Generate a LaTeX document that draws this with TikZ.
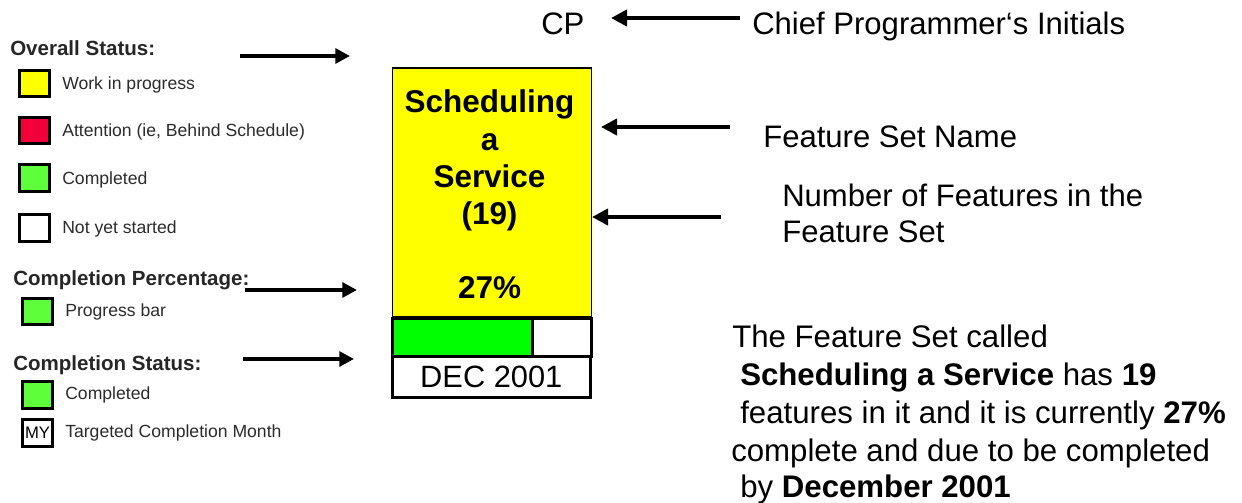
\documentclass[tikz,border=0pt]{standalone}
\usepackage{fontspec}
\setmainfont{Liberation Sans}
\usetikzlibrary{arrows.meta}

\definecolor{fsyellow}{HTML}{FFFF00}
\definecolor{fsgreen}{HTML}{00FF00}
\definecolor{lggreen}{HTML}{5EFF3A}
\definecolor{lgred}{HTML}{F2003A}
\definecolor{lgtext}{HTML}{2B2B2B}

\tikzset{
  swatch/.style={draw=black, line width=2.3pt, minimum width=23pt, minimum height=20pt, inner sep=0pt},
  legtext/.style={anchor=west, inner sep=0pt, text=lgtext, font=\fontsize{13.2}{15}\selectfont},
  leghead/.style={anchor=base west, inner sep=0pt, text=black!85, font=\fontsize{15.4}{18}\selectfont\bfseries},
  lefarrow/.style={line width=3pt, -{Triangle[length=11pt,width=11pt]}},
  rigarrow/.style={line width=3.6pt, -{Triangle[length=12pt,width=12pt]}},
  label/.style={anchor=base west, inner sep=0pt, font=\fontsize{23.3}{28}\selectfont},
  boxline/.style={anchor=base, inner sep=0pt, font=\fontsize{23.6}{28}\selectfont\bfseries},
  para/.style={anchor=base west, inner sep=0pt, font=\fontsize{23.4}{28}\selectfont},
}

\begin{document}
\begin{tikzpicture}[x=0.75pt,y=-0.75pt]
\useasboundingbox (0,0) rectangle (1242,503);

% ---- legend: overall status
\node[leghead] (hOverall) at (10,56) {Overall Status:};
\node[swatch, fill=fsyellow] (sWip) at (34.5,83.5) {};
\node[legtext] (tWip) at (62,85) {Work in progress};
\node[swatch, fill=lgred] (sAtt) at (34.5,130.5) {};
\node[legtext] (tAtt) at (62,132) {Attention (ie, Behind Schedule)};
\node[swatch, fill=lggreen] (sDone) at (34.5,178) {};
\node[legtext] (tDone) at (62,180) {Completed};
\node[swatch, fill=white] (sNot) at (34.5,228) {};
\node[legtext] (tNot) at (62,229) {Not yet started};

% ---- legend: completion percentage
\node[leghead] (hPct) at (13,285) {Completion Percentage:};
\node[swatch, fill=lggreen] (sBar) at (37.5,311.5) {};
\node[legtext] (tBar) at (65,312) {Progress bar};

% ---- legend: completion status
\node[leghead] (hStat) at (13,370) {Completion Status:};
\node[swatch, fill=lggreen] (sComp) at (37.5,395) {};
\node[legtext] (tComp) at (65,395) {Completed};
\node[swatch, fill=white, font=\fontsize{12.5}{14}\selectfont] (sMY) at (37.5,433) {MY};
\node[legtext] (tMY) at (65,433) {Targeted Completion Month};

% ---- legend pointers
\coordinate (l1a) at (240,56);  \coordinate (l1b) at (350,56);
\coordinate (l2a) at (245,290); \coordinate (l2b) at (357,290);
\coordinate (l3a) at (243,359); \coordinate (l3b) at (354,359);
\draw[lefarrow] (l1a) -- (l1b);
\draw[lefarrow] (l2a) -- (l2b);
\draw[lefarrow] (l3a) -- (l3b);

% ---- feature set card
\node[draw=black, line width=0.8pt, fill=fsyellow, minimum width=149.25pt, minimum height=186.4pt,
      inner sep=0pt, anchor=north west] (fs) at (391.5,67.5) {};
\node[boxline] (n1) at (489.5,113) {Scheduling};
\node[boxline] (n2) at (489.5,150) {a};
\node[boxline] (n3) at (489.5,187) {Service};
\node[boxline] (n4) at (489.5,224) {(19)};
\node[boxline] (n5) at (489.5,298) {27\%};

% progress bar: done part and remaining part
\node[draw=black, line width=2.25pt, fill=fsgreen, minimum width=105pt, minimum height=28.9pt,
      inner sep=0pt, anchor=north west] (done) at (390.5,316.5) {};
\node[draw=black, line width=2.25pt, fill=white, minimum width=44.25pt, minimum height=28.9pt,
      inner sep=0pt, anchor=north west] (todo) at (530.5,316.5) {};
% target month
\node[draw=black, line width=2.25pt, fill=white, minimum width=148.9pt, minimum height=31.1pt,
      inner sep=0pt, anchor=north west, font=\fontsize{23.1}{28}\selectfont] (month) at (390.5,355) {DEC 2001};

% ---- right-hand labels
\node[label] (cp) at (541,35) {CP};
\node[label] (chief) at (752,35) {Chief Programmer‘s Initials};
\node[label] (fsname) at (763,147) {Feature Set Name};
\node[label] (nf1) at (782,206) {Number of Features in the};
\node[label] (nf2) at (782,242) {Feature Set};

\coordinate (r1a) at (740,18);  \coordinate (r1b) at (611,18);
\coordinate (r2a) at (730,127); \coordinate (r2b) at (601,127);
\coordinate (r3a) at (721,217); \coordinate (r3b) at (592,217);
\draw[rigarrow] (r1a) -- (r1b);
\draw[rigarrow] (r2a) -- (r2b);
\draw[rigarrow] (r3a) -- (r3b);

% ---- summary paragraph
\node[para] (p1) at (732,347) {The Feature Set called};
\node[para] (p2) at (740,385) {\textbf{Scheduling a Service} has \textbf{19}};
\node[para] (p3) at (740,423) {features in it and it is currently \textbf{27\%}};
\node[para] (p4) at (731,461) {complete and due to be completed};
\node[para] (p5) at (740,497) {by \textbf{December 2001}};
\end{tikzpicture}
\end{document}
